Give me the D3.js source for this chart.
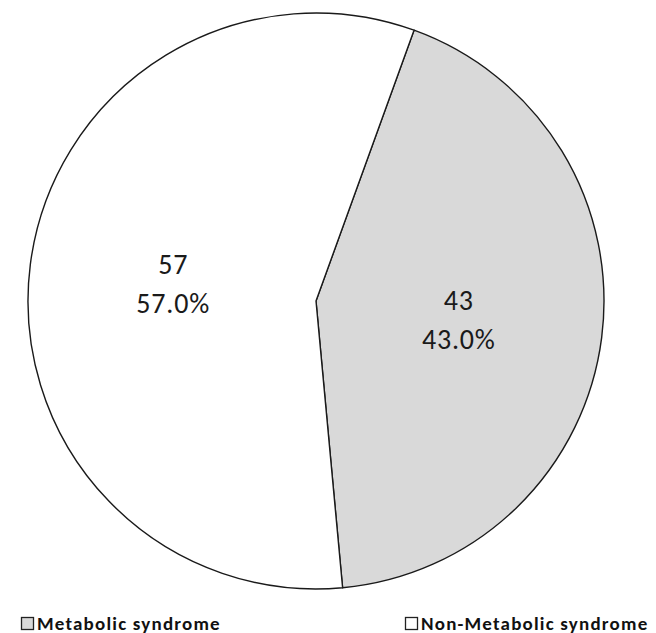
<!DOCTYPE html>
<html>
<head>
<meta charset="utf-8">
<script src="https://cdn.jsdelivr.net/npm/d3@7"></script>
<style>
  html, body { margin: 0; padding: 0; background: #fff; }
  svg { display: block; }
</style>
</head>
<body>
<svg id="chart" width="656" height="633"></svg>
<script>
// Share of patients with and without metabolic syndrome
const categories = ["Metabolic syndrome", "Non-Metabolic syndrome"];
const counts = [43, 57];
const fills = ["#d9d9d9", "#ffffff"];

const width = 656, height = 633;
const cx = 316, cy = 301, radius = 288;
const startDeg = 19.9;

const svg = d3.select("#chart");
const total = d3.sum(counts);

const pie = d3.pie()
  .sort(null)
  .value(d => d.value)
  .startAngle(startDeg * Math.PI / 180)
  .endAngle(startDeg * Math.PI / 180 + 2 * Math.PI);

const data = categories.map((c, i) => ({ name: c, value: counts[i], fill: fills[i] }));
const arcs = pie(data);

const arc = d3.arc().innerRadius(0).outerRadius(radius);
const labelArc = d3.arc().innerRadius(radius * 0.5).outerRadius(radius * 0.5);

const g = svg.append("g").attr("transform", `translate(${cx},${cy})`);

g.selectAll("path.slice")
  .data(arcs)
  .join("path")
  .attr("class", "slice")
  .attr("d", arc)
  .attr("fill", d => d.data.fill)
  .attr("stroke", "#1a1a1a")
  .attr("stroke-width", 1.4)
  .attr("stroke-linejoin", "round");

const fmt = d3.format(".1%");
const labels = g.selectAll("text.lbl")
  .data(arcs)
  .join("text")
  .attr("class", "lbl")
  .attr("text-anchor", "middle")
  .attr("font-family", "Carlito, Calibri, Lato, sans-serif")
  .attr("font-size", 28)
  .attr("letter-spacing", 0.8)
  .attr("fill", "#1a1a1a")
  .attr("transform", d => `translate(${labelArc.centroid(d)})`);

labels.append("tspan")
  .attr("x", 0).attr("y", -9)
  .text(d => d.data.value);
labels.append("tspan")
  .attr("x", 0).attr("y", 30)
  .text(d => fmt(d.data.value / total));

// Legend along the bottom edge
const legendX = [21, 405];
const legend = svg.selectAll("g.legend")
  .data(data)
  .join("g")
  .attr("class", "legend")
  .attr("transform", (d, i) => `translate(${legendX[i]},617)`);

legend.append("rect")
  .attr("x", 0.5).attr("y", 0.5)
  .attr("width", 12).attr("height", 12)
  .attr("fill", d => d.fill)
  .attr("stroke", "#222")
  .attr("stroke-width", 1.3);

legend.append("text")
  .attr("x", 16).attr("y", 12.5)
  .attr("font-family", "Carlito, Calibri, Lato, sans-serif")
  .attr("font-weight", "bold")
  .attr("font-size", 19)
  .attr("letter-spacing", 1.2)
  .attr("fill", "#111")
  .text(d => d.name);
</script>
</body>
</html>
